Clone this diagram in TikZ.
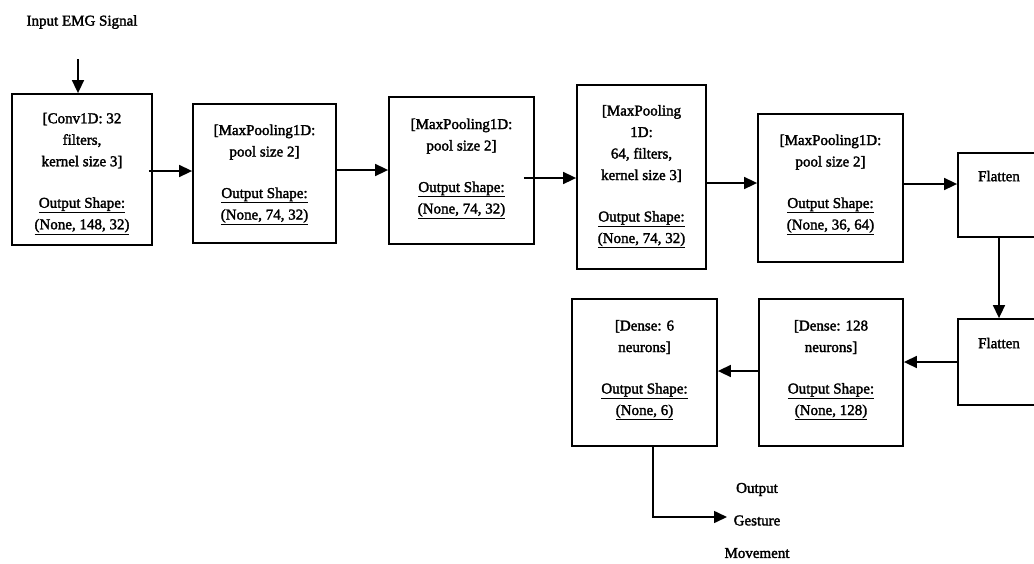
\documentclass[tikz,border=0pt]{standalone}
\usepackage{fontspec}
\setmainfont{Liberation Serif}
\newfontfamily\heavyserif{Liberation Serif}[FakeBold=2.0]
\usetikzlibrary{arrows.meta,calc}

% layer boxes, links between them and free text
\tikzset{
  layer/.style={draw, line width=1.8pt, rectangle, align=center, inner sep=0pt,
                font=\heavyserif\fontsize{15}{21.5}\selectfont},
  link/.style={line width=1.6pt, -{Triangle[length=13pt,width=12pt]}},
  lbl/.style={align=center, inner sep=0pt, font=\heavyserif\fontsize{15}{21.5}\selectfont},
}
\newcommand{\oshape}[1]{\underline{Output Shape:}\\\underline{#1}}

\begin{document}
\begin{tikzpicture}[x=1pt,y=-1pt]
\useasboundingbox (0,0) rectangle (1034,563);
\clip (0,0) rectangle (1034,563);

% input
\node[lbl] (input) at (82,22) {Input EMG Signal};
\coordinate (inpt) at (78,59);

% top row
\node[layer, minimum width=140pt, minimum height=151pt, text height=125.5pt, text depth=6pt] (conv) at (82,169.5)
  {[Conv1D: 32\\filters,\\kernel size 3]\\[20pt]\oshape{(None, 148, 32)}};
\node[layer, minimum width=143pt, minimum height=139pt, text height=100pt, text depth=8pt] (poolA) at (264.5,173.5)
  {[MaxPooling1D:\\pool size 2]\\[20pt]\oshape{(None, 74, 32)}};
\node[layer, minimum width=145pt, minimum height=147pt, text height=100pt, text depth=14pt] (poolB) at (461.5,170.5)
  {[MaxPooling1D:\\pool size 2]\\[20pt]\oshape{(None, 74, 32)}};
\node[layer, minimum width=129pt, minimum height=184pt, text height=143pt, text depth=11pt] (poolC) at (641.5,177)
  {[MaxPooling\\1D:\\64, filters,\\kernel size 3]\\[20pt]\oshape{(None, 74, 32)}};
\node[layer, minimum width=145pt, minimum height=148pt, text height=98pt, text depth=15pt] (poolD) at (830.5,188)
  {[MaxPooling1D:\\pool size 2]\\[20pt]\oshape{(None, 36, 64)}};
\node[layer, minimum width=82pt, minimum height=84pt, text depth=38pt] (flatA) at (999,195)
  {Flatten};

% bottom row
\node[layer, minimum width=82pt, minimum height=86pt, text depth=38pt] (flatB) at (999,362)
  {Flatten};
\node[layer, minimum width=144pt, minimum height=147pt, text height=101pt, text depth=16pt] (denseA) at (831,372.5)
  {[Dense: 128\\neurons]\\[20pt]\oshape{(None, 128)}};
\node[layer, minimum width=145pt, minimum height=147pt, text height=101pt, text depth=16pt] (denseB) at (644.5,372.5)
  {[Dense: 6\\neurons]\\[20pt]\oshape{(None, 6)}};

% output
\node[lbl, font=\heavyserif\fontsize{15}{32.5}\selectfont] (output) at (757,520.5)
  {Output\\Gesture\\Movement};
\coordinate (outpt) at (727,517);

% connectors
\draw[link] (inpt) -- (inpt |- conv.north);
\draw[link] ([xshift=-4pt,yshift=-1.5pt]conv.east) -- ([yshift=-1.5pt]conv.east -| poolA.west);
\draw[link] ([yshift=3.5pt]poolA.east) -- ([yshift=3.5pt]poolA.east -| poolB.west);
\draw[link] ([xshift=-11pt,yshift=-7.5pt]poolB.east) -- ([yshift=-7.5pt]poolB.east -| poolC.west);
\draw[link] ([yshift=-6pt]poolC.east) -- ([yshift=-6pt]poolC.east -| poolD.west);
\draw[link] ([yshift=4pt]poolD.east) -- ([yshift=4pt]poolD.east -| flatA.west);
\draw[link] (flatA.south) -- (flatB.north);
\draw[link] (flatB.west) -- (flatB.west -| denseA.east);
\draw[link] ([yshift=1.5pt]denseA.west) -- ([yshift=1.5pt]denseA.west -| denseB.east);
\draw[link] ([xshift=8.5pt]denseB.south) |- (outpt);
\end{tikzpicture}
\end{document}
